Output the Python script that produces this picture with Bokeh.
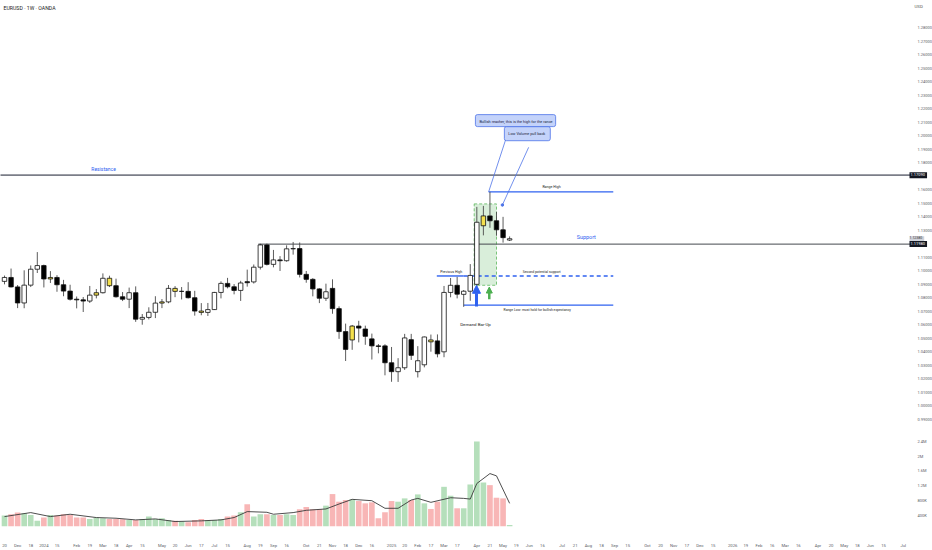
import pandas as pd
from bokeh.plotting import figure
from bokeh.models import (Range1d, FixedTicker, Label, Arrow, NormalHead,
                          ColumnDataSource)
from bokeh.embed import file_html
from bokeh.resources import INLINE

FONT = "Roboto"

# ---------------- data ----------------
first_week = "2023-11-20"
opens = [1.0922, 1.0951, 1.0881, 1.0762, 1.0894, 1.1012, 1.1039, 1.0940, 1.0951, 1.0897,
         1.0850, 1.0790, 1.0785, 1.0776, 1.0820, 1.0838, 1.0945, 1.0890, 1.0808, 1.0790,
         1.0838, 1.0642, 1.0655, 1.0693, 1.0761, 1.0770, 1.0870, 1.0848, 1.0848, 1.0801,
         1.0702, 1.0692, 1.0713, 1.0840, 1.0907, 1.0882, 1.0855, 1.0920, 1.0918, 1.1027,
         1.1192, 1.1048, 1.1081, 1.1075, 1.1163, 1.1165, 1.0974, 1.0937, 1.0866, 1.0797,
         1.0870, 1.0720, 1.0550, 1.0488, 1.0591, 1.0569, 1.0496, 1.0444, 1.0444, 1.0319,
         1.0253, 1.0282, 1.0490, 1.0253, 1.0304, 1.0488, 1.0481, 1.0400, 1.0840, 1.0893,
         1.0826, 1.0849, 1.0900, 1.1334, 1.1407, 1.1371, 1.1304, 1.1228]
highs = [1.0965, 1.1017, 1.0895, 1.1004, 1.1040, 1.1139, 1.1046, 1.0998, 1.0968, 1.0933,
         1.0897, 1.0810, 1.0806, 1.0888, 1.0865, 1.0981, 1.0964, 1.0942, 1.0843, 1.0876,
         1.0885, 1.0680, 1.0730, 1.0812, 1.0791, 1.0895, 1.0887, 1.0880, 1.0916, 1.0852,
         1.0761, 1.0762, 1.0844, 1.0922, 1.0948, 1.0902, 1.0926, 1.1009, 1.1047, 1.1201,
         1.1202, 1.1155, 1.1109, 1.1189, 1.1214, 1.1210, 1.0999, 1.0946, 1.0871, 1.0905,
         1.0937, 1.0737, 1.0609, 1.0599, 1.0630, 1.0594, 1.0535, 1.0458, 1.0456, 1.0436,
         1.0353, 1.0533, 1.0533, 1.0442, 1.0513, 1.0528, 1.0529, 1.0888, 1.0947, 1.0955,
         1.0858, 1.1050, 1.1474, 1.1481, 1.1585, 1.1437, 1.1400, 1.1255]
lows = [1.0900, 1.0877, 1.0724, 1.0723, 1.0880, 1.0984, 1.0877, 1.0910, 1.0845, 1.0812,
        1.0780, 1.0722, 1.0695, 1.0762, 1.0796, 1.0832, 1.0880, 1.0802, 1.0776, 1.0724,
        1.0622, 1.0601, 1.0640, 1.0650, 1.0724, 1.0760, 1.0805, 1.0788, 1.0795, 1.0668,
        1.0671, 1.0666, 1.0710, 1.0796, 1.0870, 1.0826, 1.0777, 1.0883, 1.0906, 1.1010,
        1.1040, 1.1026, 1.0999, 1.1068, 1.1120, 1.0951, 1.0912, 1.0811, 1.0761, 1.0777,
        1.0682, 1.0496, 1.0332, 1.0415, 1.0470, 1.0452, 1.0343, 1.0389, 1.0226, 1.0178,
        1.0177, 1.0266, 1.0340, 1.0210, 1.0285, 1.0401, 1.0359, 1.0360, 1.0804, 1.0796,
        1.0733, 1.0778, 1.0882, 1.1263, 1.1319, 1.1260, 1.1209, 1.1221]
closes = [1.0951, 1.0881, 1.0762, 1.0894, 1.1012, 1.1039, 1.0940, 1.0951, 1.0897, 1.0850,
          1.0790, 1.0785, 1.0776, 1.0820, 1.0838, 1.0945, 1.0890, 1.0808, 1.0790, 1.0838,
          1.0642, 1.0655, 1.0693, 1.0761, 1.0770, 1.0870, 1.0848, 1.0848, 1.0801, 1.0702,
          1.0692, 1.0713, 1.0840, 1.0907, 1.0882, 1.0855, 1.0910, 1.0912, 1.1027, 1.1192,
          1.1048, 1.1081, 1.1075, 1.1163, 1.1165, 1.0974, 1.0937, 1.0866, 1.0797, 1.0845,
          1.0720, 1.0550, 1.0418, 1.0591, 1.0576, 1.0515, 1.0444, 1.0440, 1.0319, 1.0253,
          1.0282, 1.0503, 1.0374, 1.0334, 1.0510, 1.0474, 1.0385, 1.0840, 1.0893, 1.0827,
          1.0849, 1.0966, 1.1360, 1.1407, 1.1371, 1.1304, 1.1246, 1.1238]
# weekly volume, thousands
volumes_k = [400, 436, 480, 462, 418, 258, 347, 418, 400, 436,
             418, 347, 347, 311, 347, 329, 311, 311, 300, 284,
             284, 311, 373, 311, 329, 284, 258, 240, 222, 284,
             311, 284, 284, 311, 373, 400, 489, 702, 373, 436,
             436, 418, 418, 436, 418, 569, 631, 569, 569, 667,
             978, 773, 818, 836, 791, 729, 756, 329, 489, 791,
             773, 862, 818, 969, 729, 578, 773, 1173, 933, 596,
             596, 1236, 2391, 1289, 1218, 880, 862, 150]
highlight_weeks = [7, 14, 16, 24, 26, 30, 53, 65, 73]
# volume moving average, read at these weeks (thousands)
ma_weeks = [0, 4, 7, 10, 14, 17, 20, 23, 26, 30, 33, 35, 37, 40, 41, 44, 46, 49, 51, 53,
            56, 58, 60, 62, 63, 65, 68, 70, 71, 72, 74, 75, 77]
ma_vals_k = [373, 480, 373, 436, 347, 329, 284, 311, 240, 258, 284, 347, 507, 489, 436, 480,
             542, 578, 711, 836, 800, 596, 596, 818, 862, 756, 880, 862, 844, 1262, 1529,
             1467, 729]

price_tick_labels = ["1.28000", "1.27000", "1.26000", "1.25000", "1.24000", "1.23000",
                     "1.22000", "1.21000", "1.20000", "1.19000", "1.18000", "1.16000",
                     "1.15000", "1.14000", "1.13000", "1.11000", "1.10000", "1.09000",
                     "1.08000", "1.07000", "1.06000", "1.05000", "1.04000", "1.03000",
                     "1.02000", "1.01000", "1.00000", "0.99000"]
vol_tick_values = [2.4e6, 2.0e6, 1.6e6, 1.2e6, 8.0e5, 4.0e5]
vol_tick_labels = ["2.4M", "2M", "1.6M", "1.2M", "800K", "400K"]
time_ticks = [("2023-11-20", "20"), ("2023-12-04", "Dec"), ("2023-12-18", "18"),
              ("2024-01-01", "2024"), ("2024-01-15", "15"), ("2024-02-05", "Feb"),
              ("2024-02-19", "19"), ("2024-03-04", "Mar"), ("2024-03-18", "18"),
              ("2024-04-01", "Apr"), ("2024-04-15", "15"), ("2024-05-06", "May"),
              ("2024-05-20", "20"), ("2024-06-03", "Jun"), ("2024-06-17", "17"),
              ("2024-07-01", "Jul"), ("2024-07-15", "15"), ("2024-08-05", "Aug"),
              ("2024-08-19", "19"), ("2024-09-02", "Sep"), ("2024-09-16", "16"),
              ("2024-10-07", "Oct"), ("2024-10-21", "21"), ("2024-11-04", "Nov"),
              ("2024-11-18", "18"), ("2024-12-02", "Dec"), ("2024-12-16", "16"),
              ("2025-01-06", "2025"), ("2025-01-20", "20"), ("2025-02-03", "Feb"),
              ("2025-02-17", "17"), ("2025-03-03", "Mar"), ("2025-03-17", "17"),
              ("2025-04-07", "Apr"), ("2025-04-21", "21"), ("2025-05-05", "May"),
              ("2025-05-19", "19"), ("2025-06-02", "Jun"), ("2025-06-16", "16"),
              ("2025-07-07", "Jul"), ("2025-07-21", "21"), ("2025-08-04", "Aug"),
              ("2025-08-18", "18"), ("2025-09-01", "Sep"), ("2025-09-15", "15"),
              ("2025-10-06", "Oct"), ("2025-10-20", "20"), ("2025-11-03", "Nov"),
              ("2025-11-17", "17"), ("2025-12-01", "Dec"), ("2025-12-15", "15"),
              ("2026-01-05", "2026"), ("2026-01-19", "19"), ("2026-02-02", "Feb"),
              ("2026-02-16", "16"), ("2026-03-02", "Mar"), ("2026-03-16", "16"),
              ("2026-04-06", "Apr"), ("2026-04-20", "20"), ("2026-05-04", "May"),
              ("2026-05-18", "18"), ("2026-06-01", "Jun"), ("2026-06-15", "15"),
              ("2026-07-06", "Jul")]

resistance = 1.1709
support = 1.1198
range_high = 1.1585
previous_high = 1.0962
range_low = 1.0746
zone_top, zone_bottom = 1.1496, 1.0893
last_price = 1.1238

# ---------------- helpers ----------------
t0 = pd.Timestamp(first_week)


def week_index(d):
    return (pd.Timestamp(d) - t0).days / 7.0


n = len(opens)
weeks = list(range(n))
BLUE = "#2f62f0"

# ---------------- figure ----------------
FRAME_W, FRAME_H = 932, 530
X0, X1 = -0.6098, 141.463      # whole width is the frame
X_SCALE_EDGE = 137.805         # where the price scale starts
X_LINE_END = 138.1
P0, P1 = 0.910588, 1.300294
V0, V1 = 106.67e3, 14.24e6

p = figure(width=932, height=550, output_backend="svg", toolbar_location=None,
           x_range=Range1d(X0, X1), y_range=Range1d(P0, P1),
           x_axis_location="below", y_axis_location="right",
           min_border_left=0, min_border_top=0, min_border_right=0,
           min_border_bottom=20, background_fill_color="white",
           border_fill_color="white", outline_line_color=None)
p.grid.visible = False
p.extra_y_ranges = {"vol": Range1d(V0, V1)}

# volume
vol_src = ColumnDataSource(dict(
    x=weeks, top=[v * 1000 for v in volumes_k],
    color=["#b5dfbb" if c >= o else "#f8b6b6" for o, c in zip(opens, closes)]))
p.vbar(x="x", top="top", bottom=0, width=0.86, fill_color="color", line_color=None,
       source=vol_src, y_range_name="vol")
p.line([float(w) for w in ma_weeks], [v * 1000 for v in ma_vals_k], y_range_name="vol",
       line_color="#3a3a3a", line_width=0.9)

# zone
p.quad(left=[71.6], right=[75.0], top=[zone_top], bottom=[zone_bottom],
       fill_color="#bfe3c2", fill_alpha=0.6, line_color="#5cb85c", line_dash="3 2",
       line_width=0.8)

# horizontal levels
p.line([X0 - 5, X_LINE_END], [resistance, resistance], line_color="#7b7e88", line_width=1.6)
p.line([38.7, X_LINE_END], [support, support], line_color="#45484f", line_width=1.0)
p.line([73.8, 92.8], [range_high, range_high], line_color=BLUE, line_width=1.4)
p.line([65.9, 70.0], [previous_high, previous_high], line_color=BLUE, line_width=1.4)
p.line([70.0, 92.8], [previous_high, previous_high], line_color=BLUE, line_width=1.4,
       line_dash="4 3")
p.line([70.0, 92.8], [range_low, range_low], line_color=BLUE, line_width=1.4)

# candles
fills = []
for i, (o, c) in enumerate(zip(opens, closes)):
    if i in highlight_weeks:
        fills.append("#f4e04d")
    elif c >= o:
        fills.append("#ffffff")
    else:
        fills.append("#000000")
c_src = ColumnDataSource(dict(
    x=weeks, high=highs, low=lows,
    top=[max(o, c) for o, c in zip(opens, closes)],
    bottom=[min(o, c) for o, c in zip(opens, closes)], fill=fills))
p.segment(x0="x", y0="low", x1="x", y1="high", source=c_src, line_color="#4a4a4a",
          line_width=0.9)
p.vbar(x="x", top="top", bottom="bottom", width=0.68, fill_color="fill",
       line_color="#111111", line_width=0.8, source=c_src)

# callout leader lines
p.line([77.0, 73.8], [1.2062, range_high], line_color="#4e74e8", line_width=0.8)
p.line([79.9, 75.9], [1.1915, 1.1488], line_color="#4e74e8", line_width=0.8)
p.scatter([75.9], [1.1488], size=2.5, color="#4e74e8")

# arrows
p.add_layout(Arrow(end=NormalHead(size=8, fill_color=BLUE, line_color=BLUE),
                   x_start=71.95, y_start=1.0735, x_end=71.95, y_end=1.0893,
                   line_color=BLUE, line_width=3))
p.add_layout(Arrow(end=NormalHead(size=6, fill_color="#4caf50", line_color="#4caf50"),
                   x_start=73.9, y_start=1.0790, x_end=73.9, y_end=1.0880,
                   line_color="#4caf50", line_width=2.5))


def txt(x, y, s, size, color="#222222", align="center", **kw):
    lab = Label(x=x, y=y, text=s, text_font=FONT, text_font_size=size,
                text_color=color, text_align=align, text_baseline="middle", **kw)
    p.add_layout(lab)
    return lab


txt(15.1, 1.1753, "Resistance", "5px", color=BLUE)
txt(88.7, 1.1253, "Support", "5.4px", color=BLUE)
txt(83.4, 1.1618, "Range High", "3.6px")
txt(68.1, 1.0993, "Previous High", "3.6px")
txt(81.9, 1.0993, "Second potential support", "3.4px")
txt(81.2, 1.0711, "Range Low: must hold for bullish expectancy", "3.4px")
txt(71.8, 1.0599, "Demand Bar-Up", "4.4px")
txt(77.9, 1.2113, "Bullish reacher, this is the high for the rance", "3.8px",
    color="#1c2440", background_fill_color="#c4d3fa", border_line_color="#4e74e8",
    border_line_width=0.8, padding=(4, 3, 4, 3), border_radius=2)
txt(79.7, 1.2016, "Low Volume pull back", "3.8px",
    color="#1c2440", background_fill_color="#c4d3fa", border_line_color="#4e74e8",
    border_line_width=0.8, padding=(4, 5, 4, 5), border_radius=2)

# header / price-scale boxes (screen units, relative to the frame)
txt(3, FRAME_H - 11, "EURUSD · 1W · OANDA", "5.2px", color="#222222", align="left",
    x_units="screen", y_units="screen")
txt(914, FRAME_H - 10, "USD", "4.4px", color="#555555", align="left",
    x_units="screen", y_units="screen")
txt(909, resistance, "1.17090", "4px", color="white", align="left", x_units="screen",
    background_fill_color="#131722", padding=(1, 2, 1, 2))
txt(909, last_price, "1.12380", "3.5px", color="#333333", align="left", x_units="screen",
    background_fill_color="#cfd2da", padding=(0, 2, 0, 2))
txt(909, support, "1.11980", "4px", color="white", align="left", x_units="screen",
    background_fill_color="#131722", padding=(1, 2, 1, 2))

# ---------------- axes ----------------
ya = p.yaxis[0]
ya.fixed_location = X_SCALE_EDGE
price_ticks = [float(s) for s in price_tick_labels]
vol_ticks_in_price = [P0 + (v - V0) * (P1 - P0) / (V1 - V0) for v in vol_tick_values]
ya.ticker = FixedTicker(ticks=price_ticks + vol_ticks_in_price)
overrides = {t: s for t, s in zip(price_ticks, price_tick_labels)}
overrides.update({t: s for t, s in zip(vol_ticks_in_price, vol_tick_labels)})
ya.major_label_overrides = overrides
ya.axis_line_color = None
ya.major_tick_line_color = None
ya.minor_tick_line_color = None
ya.major_label_standoff = 3
ya.major_label_text_font = FONT
ya.major_label_text_font_size = "4px"
ya.major_label_text_color = "#5a5d66"

xa = p.xaxis[0]
tick_pos = [week_index(d) for d, _ in time_ticks]
xa.ticker = FixedTicker(ticks=tick_pos)
xa.major_label_overrides = {t: s for t, (_, s) in zip(tick_pos, time_ticks)}
xa.axis_line_color = None
xa.major_tick_line_color = None
xa.minor_tick_line_color = None
xa.major_label_standoff = 10
xa.major_label_text_font = FONT
xa.major_label_text_font_size = "4.2px"
xa.major_label_text_color = "#5a5d66"

open("out.html", "w").write(file_html(p, INLINE))
